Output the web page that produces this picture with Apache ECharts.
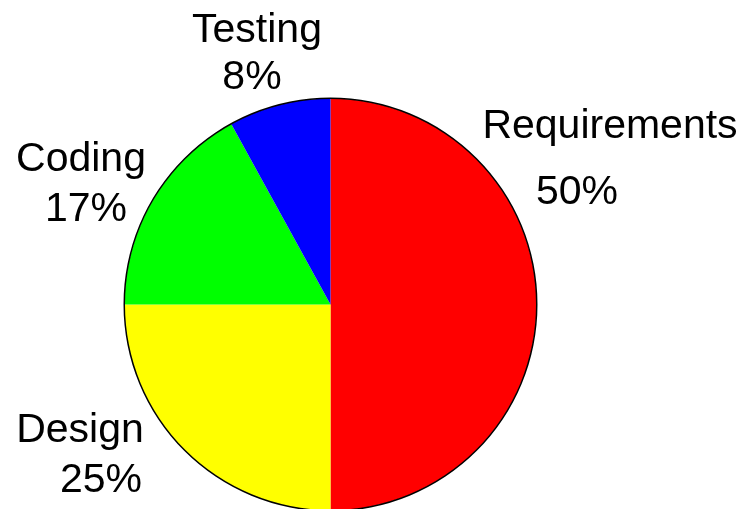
<!DOCTYPE html>
<html>
<head>
<meta charset="utf-8">
<script src="https://cdn.jsdelivr.net/npm/echarts@6/dist/echarts.min.js"></script>
<style>
  html, body { margin: 0; padding: 0; background: #fff; }
  #chart { width: 747px; height: 509px; }
</style>
</head>
<body>
<div id="chart"></div>
<script>
// 数据
const phases = ['Requirements', 'Design', 'Coding', 'Testing'];
const shares = [50, 25, 17, 8];
const colors = ['#ff0000', '#ffff00', '#00ff00', '#0000ff'];

// 标签位置 (名称 / 百分比)，按扇区顺序
const nameSpots = [[610, 127], [80, 431], [81, 160], [257, 31]];
const pctSpots = [[577, 193], [101, 481], [86, 210], [252, 78]];

const center = [330.5, 304.5];
const R = 206;

const pieData = phases.map((p, i) => ({ name: p, value: shares[i] }));
const font = { fontFamily: 'Liberation Sans, Arial, sans-serif', fontSize: 41, color: '#000' };

const chart = echarts.init(document.getElementById('chart'));
chart.setOption({
    animation: false,
    color: colors,
    series: [
        {
            // 扇区 + 名称标签
            type: 'pie',
            center: center,
            radius: R,
            startAngle: 90,
            clockwise: true,
            avoidLabelOverlap: false,
            data: pieData,
            itemStyle: { borderWidth: 0 },
            label: Object.assign({ show: true, position: 'outside', formatter: '{b}' }, font),
            labelLine: { show: false },
            labelLayout: function (params) {
                const s = nameSpots[params.dataIndex];
                return { x: s[0], y: s[1], align: 'center', verticalAlign: 'middle' };
            }
        },
        {
            // 百分比标签
            type: 'pie',
            center: center,
            radius: R,
            startAngle: 90,
            silent: true,
            avoidLabelOverlap: false,
            data: pieData,
            itemStyle: { color: 'rgba(0,0,0,0)' },
            label: Object.assign({
                show: true, position: 'outside',
                formatter: p => p.value + '%'
            }, font),
            labelLine: { show: false },
            labelLayout: function (params) {
                const s = pctSpots[params.dataIndex];
                return { x: s[0], y: s[1], align: 'center', verticalAlign: 'middle' };
            }
        },
        {
            // 外轮廓
            type: 'pie',
            center: center,
            radius: [R - 0.5, R + 1],
            silent: true,
            label: { show: false },
            labelLine: { show: false },
            data: [{ value: 1, itemStyle: { color: '#000' } }]
        }
    ]
});
</script>
</body>
</html>
